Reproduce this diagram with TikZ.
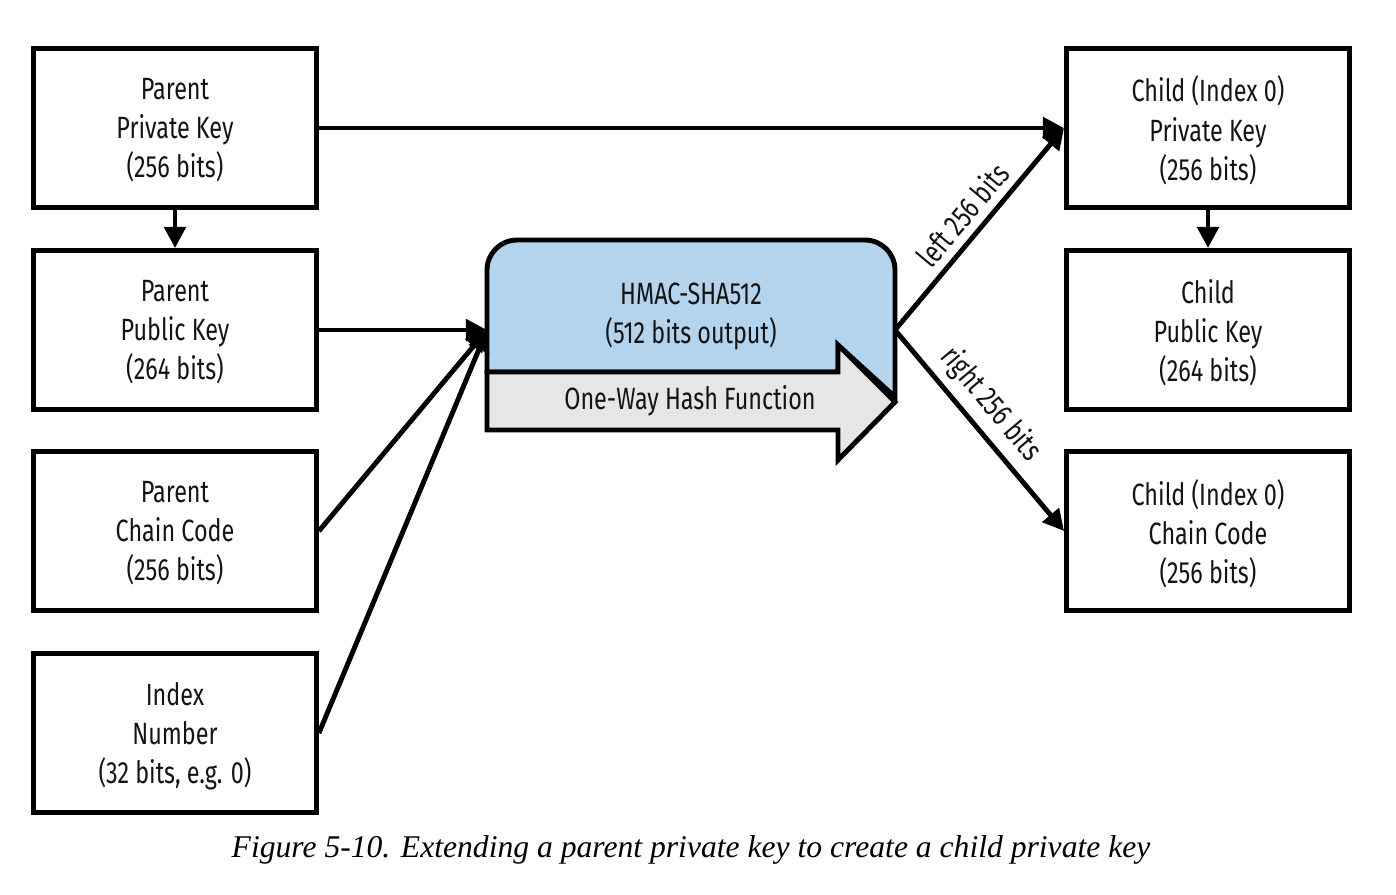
\documentclass[tikz,border=0pt]{standalone}
\usepackage{fontspec}
\setmainfont{Fira Sans}[FakeStretch=0.76]
\newfontfamily\capfont{Liberation Serif}
\usetikzlibrary{arrows.meta}
\definecolor{hashblue}{RGB}{180,212,238}
\definecolor{hashgray}{RGB}{230,230,230}
\definecolor{txt}{RGB}{20,20,20}
\tikzset{
  keybox/.style={draw,line width=2.8pt,minimum width=5.66cm,minimum height=3.18cm,
    align=center,text=txt,font=\fontsize{17.5}{22.2}\selectfont,text depth=0pt},
  link/.style={line width=2.8pt,-{Triangle[length=12pt,width=12pt]}},
}
\begin{document}
\begin{tikzpicture}[x=0.02cm,y=-0.02cm,line join=miter]
	\useasboundingbox (0,0) rectangle (1396,894);
	\node[keybox] (ppriv) at (175,128) {Parent\\Private Key\\(256 bits)};
	\node[keybox] (ppub) at (175,330) {Parent\\Public Key\\(264 bits)};
	\node[keybox] (pcc) at (175,531) {Parent\\Chain Code\\(256 bits)};
	\node[keybox] (pidx) at (175,733) {Index\\Number\\(32 bits, e.g. 0)};
	\node[keybox] (cpriv) at (1208,128) {Child (Index 0)\\Private Key\\(256 bits)};
	\node[keybox] (cpub) at (1208,330) {Child\\Public Key\\(264 bits)};
	\node[keybox] (ccc) at (1208,531) {Child (Index 0)\\Chain Code\\(256 bits)};
	\filldraw[fill=hashblue,line width=2.8pt] (487,372) -- (487,270) arc[start angle=180,end angle=270,radius=30]
		-- (865,240) arc[start angle=270,end angle=360,radius=30] -- (895,397) -- (838,345) -- (838,372) -- cycle;
	\filldraw[fill=hashgray,line width=2.8pt] (487,372) -- (838,372) -- (838,345) -- (895,402) -- (838,460) -- (838,430) -- (487,430) -- cycle;
	\node[align=center,text=txt,font=\fontsize{17.5}{22.2}\selectfont] (hmac) at (691,316) {HMAC-SHA512\\(512 bits output)};
	\node[text=txt,font=\fontsize{17.5}{22.2}\selectfont] (owhf) at (690,401) {One-Way Hash Function};
	\coordinate (in) at (487,330);
	\coordinate (out) at (895,330);
	\draw[link] (ppriv) -- (cpriv);
	\draw[link] (ppriv) -- (ppub);
	\draw[link] (cpriv) -- (cpub);
	\draw[link] (ppub) -- (in);
	\draw[link] (pcc.east) -- (in);
	\draw[link] (pidx.east) -- (in);
	\draw[link] (out) -- (cpriv.west) node[midway,sloped,above=1pt,text=txt,font=\fontsize{17.5}{20}\selectfont]{left 256 bits};
	\draw[link] (out) -- (ccc.west) node[pos=0.45,sloped,above=1pt,text=txt,font=\fontsize{17.5}{20}\selectfont]{right 256 bits};
	\node[font=\capfont\itshape\fontsize{18}{22}\selectfont] (cap) at (691,850) {Figure 5-10. Extending a parent private key to create a child private key};
\end{tikzpicture}
\end{document}
